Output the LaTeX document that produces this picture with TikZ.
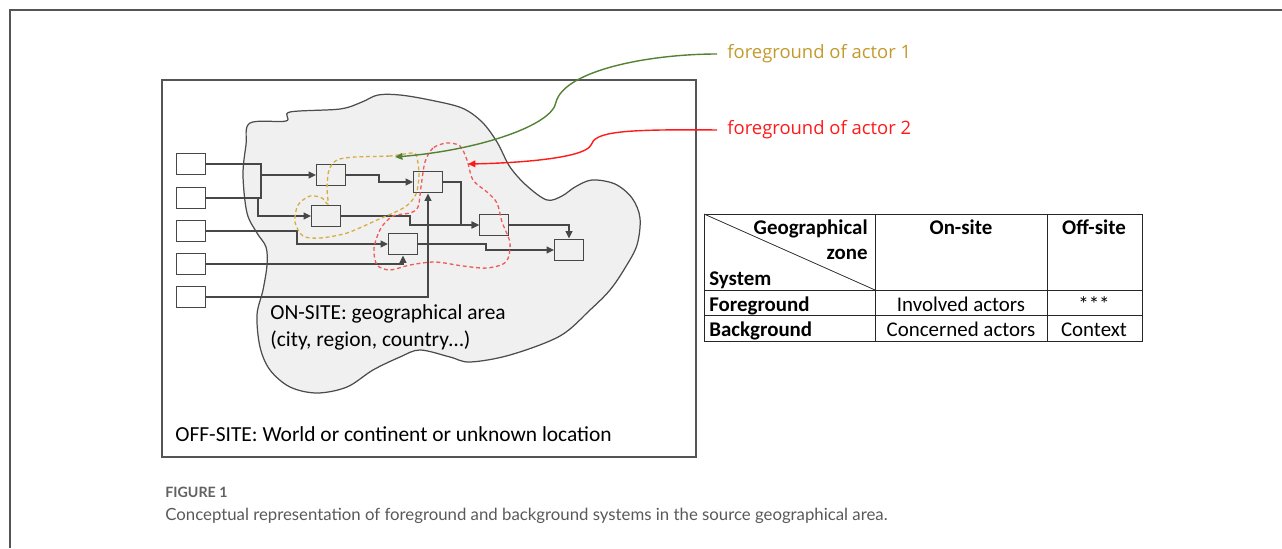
\documentclass[tikz,border=0pt]{standalone}
\usepackage{fontspec}
\setmainfont{Carlito}
\newfontfamily\calloutfont{Open Sans}
\newfontfamily\captionfont{Lato}
\usetikzlibrary{arrows.meta, positioning}

\definecolor{framegray}{HTML}{555555}
\definecolor{zonefill}{HTML}{F0F0F0}
\definecolor{actorgold}{HTML}{C29A2C}
\definecolor{loopgold}{HTML}{D6AE45}
\definecolor{actorred}{HTML}{FF1A1A}
\definecolor{loopred}{HTML}{F25A5A}
\definecolor{pointgreen}{HTML}{548235}

\begin{document}
\begin{tikzpicture}[
    x=0.02cm,
    y=-0.02cm,
    >={Triangle[length=4.2pt, width=3.8pt]},
    box/.style={draw=black!72, line width=0.8pt, minimum width=0.57cm,
                minimum height=0.43cm, inner sep=0pt},
    flow/.style={->, draw=black!72, line width=0.8pt},
    txt/.style={font=\fontsize{12.2}{14.6}\selectfont, inner sep=0pt},
    cell/.style={font=\fontsize{11.9}{14.2}\selectfont, inner sep=0pt},
    head/.style={cell, font=\fontsize{11.9}{14.2}\selectfont\bfseries},
    callout/.style={font=\calloutfont\fontsize{10.5}{12.5}\selectfont, inner sep=0pt, anchor=west},
    actorloop/.style={line width=0.75pt, dash pattern=on 2.2pt off 1.6pt},
]
    \useasboundingbox (0,0) rectangle (1282,548);

    % page frame and the off-site box
    \draw[framegray, line width=1.1pt] (10,548) -- (10,10) -- (1282,10);
    \draw[framegray, line width=0.8pt] (162,80) rectangle (696,457);

    % on-site area
    \draw[black!70, line width=0.7pt, fill=zonefill]
        plot[smooth cycle, tension=0.55] coordinates {
            (250,123) (286,121) (290,112) (340,109) (362,102) (378,95)
            (400,95) (430,100) (462,108) (482,122) (497,142) (510,167)
            (527,186) (547,200) (562,196) (575,187) (592,180) (615,184)
            (632,198) (640,218) (637,245) (625,268) (610,290) (590,310)
            (560,336) (510,355) (470,362) (450,357) (420,350) (400,357)
            (373,370) (347,387) (317,393) (290,387) (270,370) (260,347)
            (257,315) (263,290) (267,265) (266,247) (257,233) (247,213)
            (243,175) (246,145)};

    % actors
    \foreach \i/\y in {1/164, 2/198, 3/231, 4/264, 5/297}
        \node[box, minimum height=0.42cm] (in\i) at (191,\y) {};

    \node[box] (A) at (331,175) {};
    \node[box] (B) at (326,216) {};
    \node[box] (C) at (428,182) {};
    \node[box] (D) at (403,244) {};
    \node[box] (E) at (494,225) {};
    \node[box] (F) at (569,250) {};

    \coordinate (j1) at (261,164);
    \coordinate (j2) at (261,198);
    \coordinate (j3) at (258,198);

    \draw[draw=black!72, line width=0.8pt] (in1) -- (j1) -- (j2) -- (in2);
    \draw[flow] (A -| j1) -- (A);
    \draw[flow] (j3) |- (B);
    \draw[flow] (A) -- ++(48,0) |- (C);
    \draw[flow] (in3) -- ++(106,0) |- (D);
    \draw[flow] (in4) -| (D);
    \draw[flow] (in5) -| (C);
    \draw[flow] (B) -- ++(84,0) |- (E);
    \draw[flow] (C) -- ++(33,0) |- (E);
    \draw[flow] (D) -- ++(83,0) |- (F);
    \draw[flow] (E) -| (F);

    % foregrounds
    \draw[loopgold, actorloop]
        plot[smooth cycle, tension=0.5] coordinates {
            (413,153) (390,156) (355,157) (337,160) (329,170) (327,188)
            (328,204) (322,198) (310,196) (298,205) (295,222) (303,236)
            (320,238) (347,233) (377,220) (405,207) (416,194) (419,175)
            (417,158)};
    \draw[loopred, actorloop]
        plot[smooth cycle, tension=0.5] coordinates {
            (447,143) (433,148) (425,162) (421,187) (418,207) (410,213)
            (393,216) (381,228) (374,248) (377,265) (390,270) (410,265)
            (435,262) (463,266) (487,268) (506,262) (510,243) (502,222)
            (497,203) (487,192) (473,180) (467,160) (460,146)};

    \node[callout, text=actorgold] (fg1) at (727,54) {foreground of actor 1};
    \node[callout, text=actorred]  (fg2) at (727,130) {foreground of actor 2};
    \coordinate (tip1) at (395,157);
    \coordinate (tip2) at (468,164);

    \draw[->, pointgreen, line width=0.8pt] (fg1.west) ++(-10,0)
        .. controls (650,54) and (565,70) .. (556,102)
        .. controls (553,125) and (480,150) .. (tip1);
    \draw[->, actorred, line width=0.8pt] (fg2.west) ++(-10,0)
        .. controls (620,129) and (595,132) .. (591,145)
        .. controls (585,158) and (520,163) .. (tip2);

    % area texts
    \node[txt, anchor=base west] (on1) at (270,319) {ON-SITE: geographical area};
    \node[txt, anchor=base west] (on2) at (270,346) {(city, region, country\ldots)};
    \node[txt, anchor=base west] (off) at (175,441) {OFF-SITE: World or continent or unknown location};

    % table
    \draw[black!85, line width=0.45pt]
        (704,214) rectangle (1142,341)
        (875,214) -- (875,341)
        (1047,214) -- (1047,341)
        (704,290) -- (1142,290)
        (704,315) -- (1142,315);
    \draw[black!80, line width=0.45pt] (704,214) -- (875,290);

    \node[head, anchor=base east] (geo)  at (868,234) {Geographical};
    \node[head, anchor=base east] (zone) at (868,259) {zone};
    \node[head, anchor=base west] (sys)  at (709,285) {System};
    \node[head, anchor=base] (onsite)  at (961,234) {On-site};
    \node[head, anchor=base] (offsite) at (1094,234) {Off-site};
    \node[head, anchor=base west] (fg) at (709,311) {Foreground};
    \node[cell, anchor=base] (inv)   at (961,311) {Involved actors};
    \node[cell, anchor=base] (stars) at (1094,311) {***};
    \node[head, anchor=base west] (bg) at (709,336) {Background};
    \node[cell, anchor=base] (conc) at (961,336) {Concerned actors};
    \node[cell, anchor=base] (ctx)  at (1094,336) {Context};

    % caption
    \node[anchor=base west, inner sep=0pt, text=black!62,
          font=\captionfont\fontsize{8.1}{10}\selectfont\bfseries] (fig) at (165,497) {FIGURE 1};
    \node[anchor=base west, inner sep=0pt, text=black!65,
          font=\captionfont\fontsize{9.55}{11.5}\selectfont] (cap) at (165,520)
        {Conceptual representation of foreground and background systems in the source geographical area.};
\end{tikzpicture}
\end{document}
